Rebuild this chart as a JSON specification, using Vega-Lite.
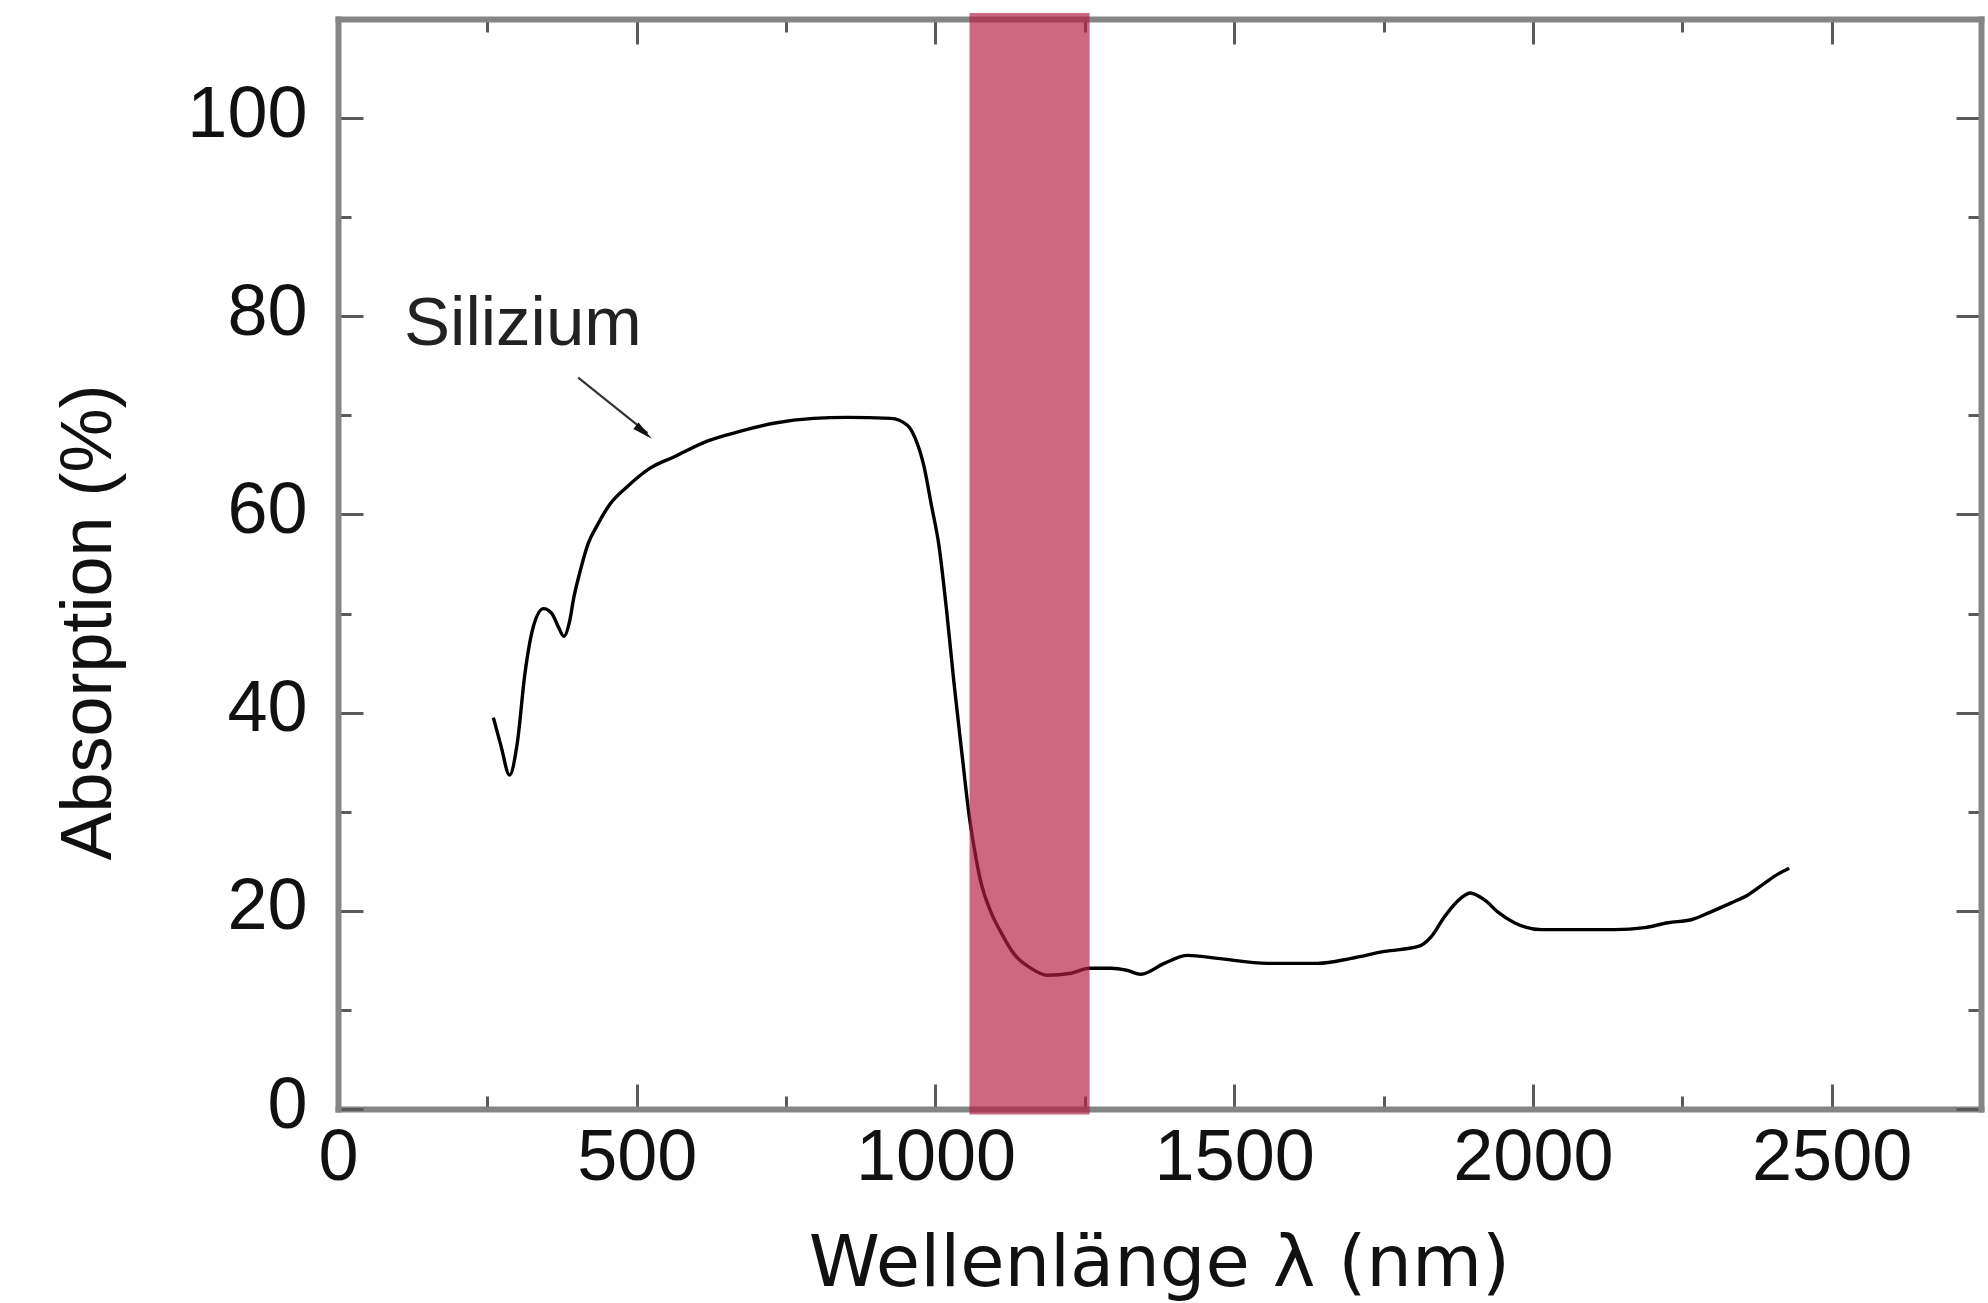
{
  "$schema": "https://vega.github.io/schema/vega-lite/v6.json",
  "width": 1643,
  "height": 1090,
  "autosize": {"type": "none"},
  "padding": {"left": 338, "top": 19, "right": 7, "bottom": 194},
  "background": "white",
  "config": {
    "view": {"stroke": null},
    "axis": {
      "grid": false,
      "domainColor": "#858585",
      "domainWidth": 6,
      "domainCap": "square",
      "tickColor": "#5a5a5a",
      "tickWidth": 3,
      "labelFont": "Liberation Sans",
      "labelFontSize": 72,
      "labelColor": "#111111",
      "titleFont": "DejaVu Sans",
      "titleColor": "#111111",
      "titleFontWeight": "normal"
    }
  },
  "datasets": {
    "curve": [
      {"wl": 260, "abs": 39.5}, {"wl": 273, "abs": 36.6}, {"wl": 287, "abs": 33.7}, {"wl": 300, "abs": 36.9},
      {"wl": 313, "abs": 44.0}, {"wl": 327, "abs": 48.7}, {"wl": 344, "abs": 50.5}, {"wl": 358, "abs": 50.0},
      {"wl": 370, "abs": 48.5}, {"wl": 378, "abs": 47.7}, {"wl": 388, "abs": 49.3}, {"wl": 394, "abs": 51.4},
      {"wl": 405, "abs": 54.2}, {"wl": 419, "abs": 57.1}, {"wl": 433, "abs": 58.8}, {"wl": 456, "abs": 61.1},
      {"wl": 484, "abs": 62.8}, {"wl": 523, "abs": 64.7}, {"wl": 562, "abs": 65.8}, {"wl": 618, "abs": 67.4},
      {"wl": 674, "abs": 68.4}, {"wl": 729, "abs": 69.2}, {"wl": 796, "abs": 69.7}, {"wl": 852, "abs": 69.8},
      {"wl": 925, "abs": 69.7}, {"wl": 953, "abs": 69.0}, {"wl": 966, "abs": 67.7}, {"wl": 981, "abs": 64.8},
      {"wl": 993, "abs": 61.0}, {"wl": 1006, "abs": 56.8}, {"wl": 1019, "abs": 50.1}, {"wl": 1031, "abs": 43.0},
      {"wl": 1045, "abs": 35.5}, {"wl": 1056, "abs": 29.8}, {"wl": 1065, "abs": 26.3}, {"wl": 1076, "abs": 22.9},
      {"wl": 1092, "abs": 20.0}, {"wl": 1109, "abs": 17.9}, {"wl": 1132, "abs": 15.6}, {"wl": 1160, "abs": 14.2},
      {"wl": 1187, "abs": 13.5}, {"wl": 1227, "abs": 13.7}, {"wl": 1257, "abs": 14.2}, {"wl": 1294, "abs": 14.2},
      {"wl": 1320, "abs": 14.0}, {"wl": 1344, "abs": 13.6}, {"wl": 1383, "abs": 14.7}, {"wl": 1422, "abs": 15.5},
      {"wl": 1472, "abs": 15.2}, {"wl": 1556, "abs": 14.7}, {"wl": 1640, "abs": 14.7}, {"wl": 1696, "abs": 15.2},
      {"wl": 1752, "abs": 15.9}, {"wl": 1808, "abs": 16.4}, {"wl": 1830, "abs": 17.4}, {"wl": 1852, "abs": 19.4},
      {"wl": 1880, "abs": 21.3}, {"wl": 1895, "abs": 21.8}, {"wl": 1919, "abs": 21.1}, {"wl": 1941, "abs": 19.9},
      {"wl": 1969, "abs": 18.8}, {"wl": 2014, "abs": 18.1}, {"wl": 2070, "abs": 18.1}, {"wl": 2137, "abs": 18.1},
      {"wl": 2187, "abs": 18.3}, {"wl": 2226, "abs": 18.8}, {"wl": 2265, "abs": 19.1}, {"wl": 2298, "abs": 19.9},
      {"wl": 2332, "abs": 20.8}, {"wl": 2360, "abs": 21.6}, {"wl": 2388, "abs": 22.8}, {"wl": 2410, "abs": 23.7},
      {"wl": 2429, "abs": 24.3}
    ],
    "band": [{"start": 1057, "end": 1258}],
    "arrow": [{"x1": 402, "y1": 73.8, "x2": 518, "y2": 68.2}],
    "arrowhead": [{"x": 512, "y": 68.3}],
    "label": [{"x": 110.6, "y": 77.1, "text": "Silizium"}]
  },
  "resolve": {"axis": {"x": "independent", "y": "independent"}},
  "layer": [
    {
      "data": {"name": "curve"},
      "mark": {"type": "line", "color": "#000000", "strokeWidth": 3.4, "interpolate": "monotone"},
      "encoding": {
        "x": {
          "field": "wl", "type": "quantitative",
          "scale": {"domain": [0, 2750], "nice": false, "zero": false},
          "axis": {
            "orient": "bottom",
            "values": [0, 250, 500, 750, 1000, 1250, 1500, 1750, 2000, 2250, 2500],
            "format": "d",
            "labelExpr": "datum.value % 500 === 0 ? datum.label : ''",
            "labelFlush": false,
            "tickSize": {"condition": {"test": "datum.value % 500 === 0", "value": -25}, "value": -13},
            "labelBaseline": "top",
            "labelPadding": 38,
            "title": "Wellenlänge λ (nm)",
            "titleFontSize": 72,
            "titleX": 821,
            "titleY": 176,
            "titleBaseline": "alphabetic"
          }
        },
        "y": {
          "field": "abs", "type": "quantitative",
          "scale": {"domain": [0, 110], "nice": false, "zero": false},
          "axis": {
            "orient": "left",
            "values": [0, 10, 20, 30, 40, 50, 60, 70, 80, 90, 100],
            "format": "d",
            "labelExpr": "datum.value % 20 === 0 ? datum.label : ''",
            "labelFlush": false,
            "tickSize": {"condition": {"test": "datum.value % 20 === 0", "value": -25}, "value": -13},
            "labelBaseline": "middle",
            "labelPadding": 56,
            "labelOffset": -4,
            "title": "Absorption (%)",
            "titleFont": "Liberation Sans",
            "titleFontSize": 72,
            "titleAngle": -90,
            "titleX": -228,
            "titleY": 603,
            "titleBaseline": "alphabetic"
          }
        }
      }
    },
    {
      "data": {"name": "arrow"},
      "mark": {"type": "rule", "color": "#333333", "strokeWidth": 2.2},
      "encoding": {
        "x": {"field": "x1", "type": "quantitative", "axis": null},
        "x2": {"field": "x2"},
        "y": {"field": "y1", "type": "quantitative", "axis": null},
        "y2": {"field": "y2"}
      }
    },
    {
      "data": {"name": "arrowhead"},
      "mark": {"type": "point", "filled": true, "color": "#111111", "opacity": 1, "size": 420, "angle": 39, "shape": "M-1,-0.4L1,0L-1,0.4Z"},
      "encoding": {
        "x": {"field": "x", "type": "quantitative", "axis": null},
        "y": {"field": "y", "type": "quantitative", "axis": null}
      }
    },
    {
      "data": {"name": "label"},
      "mark": {"type": "text", "align": "left", "baseline": "alphabetic", "font": "Liberation Sans", "fontSize": 69, "color": "#222222"},
      "encoding": {
        "x": {"field": "x", "type": "quantitative", "axis": null},
        "y": {"field": "y", "type": "quantitative", "axis": null},
        "text": {"field": "text"}
      }
    },
    {
      "data": {"name": "band"},
      "mark": {"type": "rect", "color": "#B41E43", "opacity": 0.67},
      "encoding": {
        "x": {
          "field": "start", "type": "quantitative",
          "scale": {"domain": [0, 2750], "nice": false, "zero": false},
          "axis": {
            "orient": "top",
            "values": [0, 250, 500, 750, 1000, 1250, 1500, 1750, 2000, 2250, 2500],
            "labels": false,
            "tickSize": {"condition": {"test": "datum.value % 500 === 0", "value": -25}, "value": -13},
            "title": null
          }
        },
        "x2": {"field": "end"},
        "y": {
          "datum": -0.56, "type": "quantitative",
          "scale": {"domain": [0, 110], "nice": false, "zero": false},
          "axis": {
            "orient": "right",
            "values": [0, 10, 20, 30, 40, 50, 60, 70, 80, 90, 100],
            "labels": false,
            "tickSize": {"condition": {"test": "datum.value % 20 === 0", "value": -25}, "value": -13},
            "title": null
          }
        },
        "y2": {"datum": 110.6}
      }
    }
  ]
}
